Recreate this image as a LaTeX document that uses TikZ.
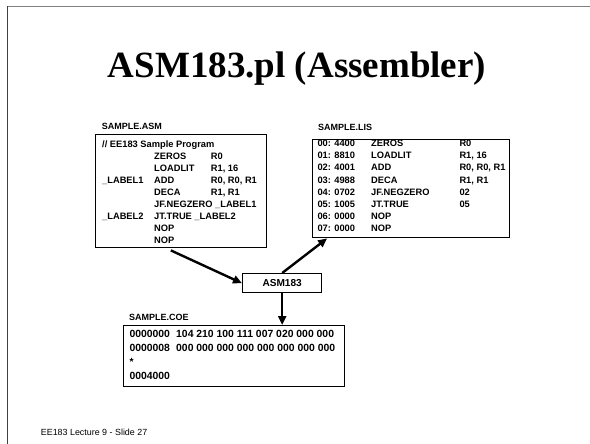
\documentclass[tikz,border=0pt]{standalone}
\usepackage{fontspec}
\setmainfont{Liberation Serif}
\setsansfont{Liberation Sans}
\usetikzlibrary{arrows.meta,calc}
\begin{document}
\begin{tikzpicture}[x=1pt,y=-1pt,
  box/.style={draw=black,line width=1.4pt,inner sep=0pt,anchor=north west},
  code/.style={font=\fontsize{9.3}{11}\selectfont\sffamily\bfseries,anchor=base west,inner sep=0pt},
  coetxt/.style={font=\fontsize{10.4}{12}\selectfont\sffamily\bfseries,anchor=base west,inner sep=0pt},
  lbl/.style={font=\fontsize{9}{11}\selectfont\sffamily\bfseries,anchor=base west,inner sep=0pt},
  arr/.style={line width=2.4pt,-{Triangle[length=9pt,width=8pt]}}]
\useasboundingbox (0,0) rectangle (590,444);
\fill[white] (0,0) rectangle (590,444);
% slide frame
\draw[line width=1.5pt,black!50] (6.5,6.7) -- (590,6.7);
\draw[line width=1.5pt,black!75] (7.3,6) -- (7.3,444);
% title
\node[font=\fontsize{37}{40}\selectfont\bfseries,anchor=base,inner sep=0pt] (title) at (297,78) {ASM183.pl (Assembler)};
% boxes
\node[box,minimum width=171pt,minimum height=113pt] (asm) at (95,134) {};
\node[box,minimum width=197pt,minimum height=98pt] (lis) at (312,139) {};
\node[box,minimum width=221pt,minimum height=61pt] (coe) at (123,325) {};
\node[box,minimum width=79pt,minimum height=19pt,font=\fontsize{10.1}{12}\selectfont\sffamily\bfseries] (tool) at (242,273) {};
\node[font=\fontsize{10.1}{12}\selectfont\sffamily\bfseries,inner sep=0pt] (toollbl) at (tool.center) {ASM183};
% labels
\node[lbl] (asmlbl) at (101.7,130) {SAMPLE.ASM};
\node[lbl] (lislbl) at (318,130.5) {SAMPLE.LIS};
\node[lbl] (coelbl) at (129,320) {SAMPLE.COE};
% ASM text
\node[code] (a0) at (102,147) {// EE183 Sample Program};
\foreach \i/\l/\o/\r in {1//ZEROS/R0, 2//LOADLIT/{R1, 16}, 3/\_LABEL1/ADD/{R0, R0, R1}, 4//DECA/{R1, R1}, 5//JF.NEGZERO \_LABEL1/, 6/\_LABEL2/JT.TRUE \_LABEL2/, 7//NOP/, 8//NOP/}{
  \node[code] (al\i) at (102,147+12.1*\i) {\l};
  \node[code] (ao\i) at (154,147+12.1*\i) {\o};
  \node[code] (ar\i) at (210.7,147+12.1*\i) {\r};
}
% LIS text
\foreach \i/\a/\o/\r in {0/00: 4400/ZEROS/R0, 1/01: 8810/LOADLIT/{R1, 16}, 2/02: 4001/ADD/{R0, R0, R1}, 3/03: 4988/DECA/{R1, R1}, 4/04: 0702/JF.NEGZERO/02, 5/05: 1005/JT.TRUE/05, 6/06: 0000/NOP/, 7/07: 0000/NOP/}{
  \node[code] (la\i) at (317.3,146.7+12.14*\i) {\a};
  \node[code] (lo\i) at (371,146.7+12.14*\i) {\o};
  \node[code] (lr\i) at (459.3,146.7+12.14*\i) {\r};
}
% COE text
\node[coetxt] (c0a) at (129.3,337) {0000000};
\node[coetxt] (c0b) at (176,337) {104 210 100 111 007 020 000 000};
\node[coetxt] (c1a) at (129.3,351.1) {0000008};
\node[coetxt] (c1b) at (176,351.1) {000 000 000 000 000 000 000 000};
\node[coetxt] (c2a) at (129.3,365.2) {*};
\node[coetxt] (c3a) at (129.3,379.3) {0004000};
% footer
\node[font=\fontsize{8.9}{10}\selectfont\sffamily,anchor=base west,inner sep=0pt] (footer) at (40.7,435) {EE183 Lecture 9 - Slide 27};
% arrows
\coordinate (asmout) at ($(asm.south west)!0.44!(asm.south east)+(0,2)$);
\coordinate (lisin) at ($(lis.south west)!0.076!(lis.south east)$);
\draw[arr] (asmout) -- (tool.west);
\draw[arr] (tool.north) -- (lisin);
\draw[arr] (tool.south) -- (tool.south |- coe.north);
\end{tikzpicture}
\end{document}
